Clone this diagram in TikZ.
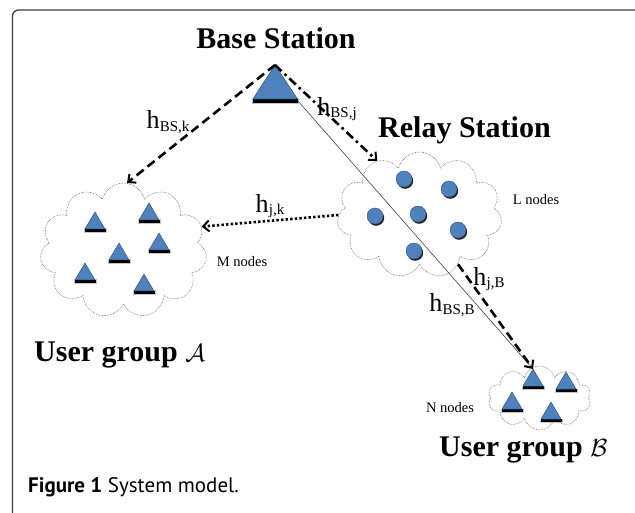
\documentclass[tikz,border=0pt]{standalone}
\usepackage{fontspec}
\setmainfont{Liberation Serif}
\newfontfamily\capfont{PT Sans}
\usetikzlibrary{shapes.geometric,shapes.symbols,arrows.meta,shadows}

\definecolor{nodeblue}{RGB}{79,129,189}
\definecolor{nodeedge}{RGB}{52,86,130}
\definecolor{framedark}{RGB}{60,60,60}
\definecolor{framelight}{RGB}{130,130,130}

% channel label: large h with a small upright subscript
\newcommand{\chan}[1]{h\kern0.2pt\raisebox{-2.5pt}{\fontsize{15}{15}\selectfont #1}}

\tikzset{
  groupcloud/.style={cloud, cloud ignores aspect, draw=black!55, line width=0.6pt,
    dash pattern=on 0.7pt off 0.9pt, inner sep=0pt},
  relaynode/.style={circle, minimum size=16pt, inner sep=0pt, fill=nodeblue,
    draw=nodeedge, line width=0.4pt,
    drop shadow={shadow xshift=1.2pt, shadow yshift=-1.8pt, fill=black, opacity=0.85}},
  title/.style={font=\bfseries\fontsize{30}{30}\selectfont, inner sep=0pt},
  countlabel/.style={font=\fontsize{14.5}{14.5}\selectfont, inner sep=0pt},
  chanlabel/.style={font=\fontsize{26}{26}\selectfont, inner sep=0pt},
  tipbarb/.tip={Straight Barb[length=6pt, width=11pt, line width=2pt]},
  dashlink/.style={line width=2.6pt, dash pattern=on 9pt off 5pt, -tipbarb},
  dashdotlink/.style={line width=2.6pt, dash pattern=on 9pt off 4pt on 2.6pt off 4pt, -tipbarb},
  dotlink/.style={line width=2.6pt, dash pattern=on 2.4pt off 2.2pt, -tipbarb},
  thinlink/.style={line width=0.6pt, black!75},
  % small user terminal: blue triangle resting on a dark shadow bar
  usr/.pic={
    \fill[black!45, opacity=0.5] (-11.5,16.5) rectangle (11.5,21);
    \fill[black] (-10.5,17) rectangle (10.5,19.8);
    \filldraw[fill=nodeblue, draw=nodeedge, line width=0.5pt, line join=round]
      (0,0) -- (10,17) -- (-10,17) -- cycle;
    \coordinate (-apex) at (0,0);
  },
  % base station: larger triangle
  bstri/.pic={
    \fill[black!45, opacity=0.5] (-23.5,33.5) rectangle (23.5,39);
    \fill[black] (-22.5,34) rectangle (22.5,38);
    \filldraw[fill=nodeblue, draw=nodeedge, line width=0.6pt, line join=round]
      (0,0) -- (22.5,34) -- (-22,34) -- cycle;
    \coordinate (-apex) at (0,0);
    \coordinate (-right) at (23,36);
  }
}

\begin{document}
\begin{tikzpicture}[x=1pt, y=-1pt]
\useasboundingbox (0,0) rectangle (635,513);

% page frame (only the top-left part is visible): darker left side, lighter top
\draw[framedark, line width=1.3pt, rounded corners=6pt] (12.5,513) -- (12.5,10) -- (30,10);
\draw[framelight, line width=1.2pt] (24,10) -- (635,10);

% clouds of the three groups
\node[groupcloud, cloud puffs=11, minimum width=167pt, minimum height=135pt] (ca) at (123.5,250.5) {};
\node[groupcloud, cloud puffs=11, minimum width=165pt, minimum height=126pt] (cr) at (419.5,215) {};
\node[groupcloud, cloud puffs=10, minimum width=103pt, minimum height=64pt] (cb) at (539.5,398) {};

% titles
\node[title] (tbs) at (276,38) {Base Station};
\node[title, anchor=west] (trs) at (378,130) {Relay Station};
\node[title, anchor=west] (tua) at (34,355) {User group $\mathcal{A}$};
\node[title, anchor=west] (tub) at (439,450) {User group $\mathcal{B}$};

% node counts
\node[countlabel] (nm) at (242,262) {M nodes};
\node[countlabel] (nl) at (536,200) {L nodes};
\node[countlabel] (nn) at (450,408) {N nodes};

% relay nodes
\node[relaynode] (r1) at (404,179) {};
\node[relaynode] (r2) at (449,189) {};
\node[relaynode] (r3) at (375,216) {};
\node[relaynode] (r4) at (418,214) {};
\node[relaynode] (r5) at (458,230) {};
\node[relaynode] (r6) at (414,251) {};

% users of group A
\pic (a1) at (95,212) {usr};
\pic (a2) at (149,203) {usr};
\pic (a3) at (159,233) {usr};
\pic (a4) at (119,243) {usr};
\pic (a5) at (85,263) {usr};
\pic (a6) at (144,274) {usr};

% users of group B
\pic (b1) at (533,369) {usr};
\pic (b2) at (566,372) {usr};
\pic (b3) at (512,392) {usr};
\pic (b4) at (551,402) {usr};

% base station
\pic (bs) at (275,65) {bstri};

% links
\draw[thinlink] (bs-right) -- (b1-apex);
\draw[dashlink] (bs-apex) -- (ca.87);
\draw[dashdotlink] (bs-apex) -- (cr.128);
\draw[dotlink] (cr.west) -- (ca.17);
\draw[dashlink] (cr.-52) -- (b1-apex);

% channel labels
\node[chanlabel] (hbsk) at (168,122) {\chan{BS,k}};
\node[chanlabel] (hbsj) at (337,109) {\chan{BS,j}};
\node[chanlabel] (hjk) at (270,206) {\chan{j,k}};
\node[chanlabel] (hjb) at (489,279) {\chan{j,B}};
\node[chanlabel] (hbsb) at (452,305) {\chan{BS,B}};

% caption
\node[anchor=west, inner sep=0pt, font=\capfont\fontsize{21}{21}\selectfont] (cap) at (28,487)
  {\textbf{Figure 1} System model.};
\end{tikzpicture}
\end{document}
